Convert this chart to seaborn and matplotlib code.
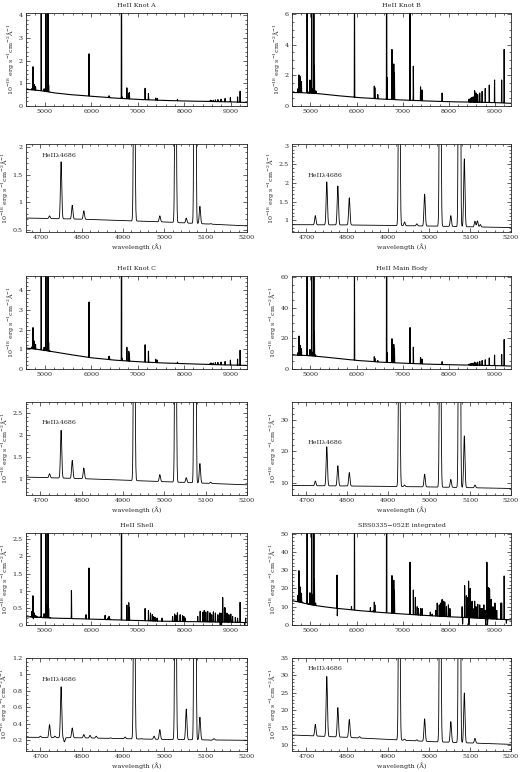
import numpy as np
import matplotlib
matplotlib.use("Agg")
import matplotlib.pyplot as plt
from matplotlib.ticker import MultipleLocator, FuncFormatter
import seaborn as sns

# continuum knots, wavelength in A, flux in 1e-18 erg/s/cm2/A
cont_wl = [4600, 4800, 5000, 5200, 5500, 6000, 6500, 7000, 7500, 8000, 8500, 9000, 9400]
cont_knot_a = [0.73, 0.70, 0.65, 0.58, 0.51, 0.43, 0.35, 0.29, 0.25, 0.22, 0.20, 0.18, 0.15]
cont_knot_b = [0.88, 0.87, 0.84, 0.80, 0.70, 0.56, 0.46, 0.39, 0.33, 0.28, 0.25, 0.22, 0.17]
cont_knot_c = [1.06, 1.01, 0.94, 0.87, 0.75, 0.57, 0.45, 0.37, 0.31, 0.27, 0.23, 0.20, 0.18]
cont_main = [9.1, 8.9, 8.6, 8.1, 7.2, 5.6, 4.5, 3.8, 3.2, 2.8, 2.5, 2.2, 1.9]
cont_shell = [0.24, 0.23, 0.21, 0.20, 0.19, 0.17, 0.15, 0.13, 0.11, 0.10, 0.09, 0.08, 0.07]
cont_integ = [13.3, 12.3, 11.1, 10.3, 9.3, 8.0, 6.9, 6.0, 5.2, 4.5, 3.9, 3.2, 2.8]

line_wl = [4722, 4750, 4777, 4805, 4927, 4989, 5027, 5053, 5074, 5086, 5112,
           5955, 6385, 6397, 6652, 6768, 6808, 6822, 7160, 7232, 7388, 7422, 7856,
           8562, 8591, 8627, 8671, 8724, 8792, 8879, 8993, 9147, 9202]
peak_knot_a = [0.76, 1.73, 0.95, 0.85, 5.5, 0.76, 5.5, 0.72, 15, 0.93, 0.62,
               2.3, 0.45, 0.40, 20, 0.80, 0.55, 0.60, 0.78, 0.55, 0.35, 0.33, 0.28,
               0.25, 0.24, 0.25, 0.27, 0.28, 0.30, 0.33, 0.37, 0.40, 0.65]
peak_knot_b = [1.12, 2.03, 1.92, 1.60, 10, 1.70, 12, 1.12, 35, 2.65, 0.97,
               8.0, 1.30, 1.20, 40, 3.70, 2.75, 2.15, 7.0, 2.60, 1.25, 1.05, 0.85,
               1.00, 0.85, 0.75, 0.85, 0.95, 1.15, 1.37, 1.70, 1.70, 3.70]
peak_knot_c = [1.12, 2.10, 1.42, 1.25, 8, 1.10, 9, 1.03, 25, 1.35, 0.93,
               3.4, 0.65, 0.55, 30, 1.10, 0.90, 0.80, 1.23, 0.90, 0.50, 0.45, 0.35,
               0.30, 0.30, 0.30, 0.32, 0.33, 0.35, 0.38, 0.45, 0.50, 0.95]
peak_main = [10.5, 21.5, 15.4, 13.2, 90, 12.7, 100, 11.0, 300, 25, 9.2,
             70, 8.0, 7.0, 300, 19.7, 16.0, 13.0, 27, 14.2, 7.5, 6.5, 4.8,
             4.5, 4.0, 4.5, 5.0, 5.5, 6.0, 7.2, 9.0, 9.5, 19.2]
peak_shell = [0.39, 0.85, 0.35, 0.27, 3.5, 0.33, 4.0, 0.58, 12, 0.48, 0.20,
              1.66, 0.25, 0.20, 10, 0.58, 0.65, 0.50, 0.48, 0.42, 0.20, 0.20, 0.30,
              0.35, 0.30, 0.33, 0.35, 0.30, 0.35, 0.50, 0.30, 0.20, 0.66]
peak_integ = [16.0, 29.7, 20.8, 17.4, 100, 17.6, 110, 16.8, 320, 25, 12.0,
              70, 12.5, 11.0, 300, 27, 24.5, 19.0, 34.3, 19.1, 9.0, 9.0, 12.5,
              13, 10, 9, 11, 9, 8, 20, 11, 12, 26.8]

# extra features (sky residuals, weak lines, dips)
extra_wl_knot_a = [6665]
extra_peak_knot_a = [0.40]
extra_wl_knot_b = [4940, 4970, 5118, 5125, 6460, 6665, 8440, 8470, 8500, 8530]
extra_peak_knot_b = [0.95, 0.90, 0.98, 0.88, 0.75, 1.85, 0.45, 0.50, 0.55, 0.60]
extra_wl_knot_c = [6665]
extra_peak_knot_c = [0.55]
extra_wl_main = [4940, 6460, 6665, 8440, 8470, 8500, 8530]
extra_peak_main = [9.2, 5.5, 10.5, 3.2, 3.4, 3.6, 3.8]
extra_wl_shell = [4700, 4735, 4758, 4820, 4835, 4870, 4905, 4945, 4975, 5120,
                  5577, 5890, 6300, 6363, 7276, 7316, 7341, 7370, 7524, 7750,
                  7794, 7821, 7853, 7913, 7964, 7993, 8025, 8290, 8344, 8399,
                  8430, 8465, 8505, 8548, 8630, 8761, 8775, 8800, 8827, 8866,
                  8885, 8919, 8958, 9001, 9040, 9100, 9300, 9320]
extra_peak_shell = [0.25, 0.25, 0.18, 0.26, 0.25, 0.23, 0.24, 0.22, 0.25, 0.22,
                    1.00, 0.30, 0.28, 0.20, 0.35, 0.30, 0.25, 0.22, 0.20, 0.25,
                    0.32, 0.28, 0.30, 0.30, 0.27, 0.25, 0.20, 0.25, 0.40, 0.37,
                    0.42, 0.38, 0.40, 0.35, 0.30, 0.35, -0.05, -0.10, 0.80, 0.50,
                    0.45, 0.35, 0.30, 0.32, 0.25, 0.22, -0.10, 0.20]
extra_wl_integ = [4830, 4940, 4970, 5577, 5583, 5890, 6300, 6363, 7276, 7316,
                  7341, 7600, 7640, 7716, 7750, 7794, 7821, 7853, 7890, 7913,
                  7950, 7993, 8025, 8290, 8300, 8344, 8382, 8399, 8430, 8436,
                  8452, 8465, 8505, 8548, 8630, 8700, 8761, 8800, 8827, 8840,
                  8860, 8885, 8919, 8958, 9001, 9040, 9130, 9250]
extra_peak_integ = [12.5, 11.8, 11.6, 27.3, 5.0, 10, 9.5, 8.0, 15, 10,
                    9.0, 7.0, 6.0, 8.0, 12, 11, 12, 11, 13, 12.5,
                    10, 11, 9.0, 10, 0.5, 21.5, 16, 15, 24, -1.0,
                    18, 20, 13, 9.0, 10, 9.0, 11, -1.0, 34.3, 0.0,
                    20.5, 19.5, 14, 10, 12, 8.0, 12, 1.0]

titles = ["HeII Knot A", "HeII Knot B", "HeII Knot C", "HeII Main Body",
          "HeII Shell", "SBS0335\u2212052E integrated"]
conts = [cont_knot_a, cont_knot_b, cont_knot_c, cont_main, cont_shell, cont_integ]
peaks = [peak_knot_a, peak_knot_b, peak_knot_c, peak_main, peak_shell, peak_integ]
extra_wls = [extra_wl_knot_a, extra_wl_knot_b, extra_wl_knot_c, extra_wl_main,
             extra_wl_shell, extra_wl_integ]
extra_peaks = [extra_peak_knot_a, extra_peak_knot_b, extra_peak_knot_c, extra_peak_main,
               extra_peak_shell, extra_peak_integ]

full_ylim = [(0, 4.1), (0, 6.08), (0, 4.72), (0, 60.6), (0, 2.68), (0, 50.3)]
full_ticks = [(1, 0.2), (2, 0.5), (1, 0.2), (20, 5), (0.5, 0.1), (10, 2)]
zoom_ylim = [(0.47, 2.05), (0.68, 3.05), (0.64, 2.74), (6.0, 35.9), (0.07, 1.2), (8.4, 35)]
zoom_ticks = [(0.5, 0.1), (0.5, 0.1), (0.5, 0.1), (10, 2), (0.2, 0.05), (5, 1)]
label_y = [1.85, 2.2, 2.27, 23, 0.94, 31.9]

SIGMA = 1.6
wave = np.arange(4600, 9400.5, 0.5)


def build_spectrum(cont, lwl, lpk):
    base = np.interp(wave, cont_wl, cont)
    flux = base.copy()
    for c, p in zip(lwl, lpk):
        amp = p - np.interp(c, cont_wl, cont)
        flux += amp * np.exp(-0.5 * ((wave - c) / SIGMA) ** 2)
    return flux


sns.set_style("ticks")
plt.rcParams['font.family'] = ['DejaVu Serif']
plt.rcParams['mathtext.fontset'] = 'dejavuserif'
plt.rcParams['font.size'] = 4.6

W, H = 520, 772
fig = plt.figure(figsize=(W / 100, H / 100), dpi=100)
cols = [(26, 221), (292, 219)]
full_rows = [(13, 106), (276, 369), (533, 625)]
zoom_rows = [(144, 232), (402, 495), (658, 751)]
ylab = r"10$^{-18}$ erg s$^{-1}$cm$^{-2}$Å$^{-1}$"
fmt = FuncFormatter(lambda v, p: "%g" % v)


def style(ax, xmaj, xmin, ymaj, ymin):
    ax.xaxis.set_major_locator(MultipleLocator(xmaj))
    ax.xaxis.set_minor_locator(MultipleLocator(xmin))
    ax.yaxis.set_major_locator(MultipleLocator(ymaj))
    ax.yaxis.set_minor_locator(MultipleLocator(ymin))
    ax.yaxis.set_major_formatter(fmt)
    ax.tick_params(which='both', direction='in', top=True, right=True, width=0.5,
                   labelsize=4.6, pad=2.5)
    ax.tick_params(which='major', length=3)
    ax.tick_params(which='minor', length=1.5)
    for s in ax.spines.values():
        s.set_linewidth(0.6)


for i in range(6):
    row, col = i // 2, i % 2
    x0, w = cols[col]
    spec = build_spectrum(conts[i], line_wl + extra_wls[i], peaks[i] + extra_peaks[i])

    top, bot = full_rows[row]
    ax = fig.add_axes([x0 / W, 1 - bot / H, w / W, (bot - top) / H])
    sns.lineplot(x=wave, y=spec, ax=ax, color='black', lw=0.8,
                 estimator=None, sort=False)
    ax.set_xlim(4600, 9350)
    ax.set_ylim(*full_ylim[i])
    style(ax, 1000, 200, *full_ticks[i])
    ax.set_title(titles[i], fontsize=4.6, pad=4)
    ax.set_ylabel(ylab, labelpad=2)

    top, bot = zoom_rows[row]
    az = fig.add_axes([x0 / W, 1 - bot / H, w / W, (bot - top) / H])
    m = (wave > 4655) & (wave < 5210)
    sns.lineplot(x=wave[m], y=spec[m], ax=az, color='black', lw=0.6,
                 estimator=None, sort=False)
    az.set_xlim(4665, 5200)
    az.set_ylim(*zoom_ylim[i])
    style(az, 100, 20, *zoom_ticks[i])
    az.set_xlabel("wavelength (Å)", labelpad=2)
    az.set_ylabel(ylab, labelpad=2)
    az.text(4703, label_y[i], "HeII\u03bb4686", ha='left', va='center')

fig.savefig("out.png", dpi=100)
